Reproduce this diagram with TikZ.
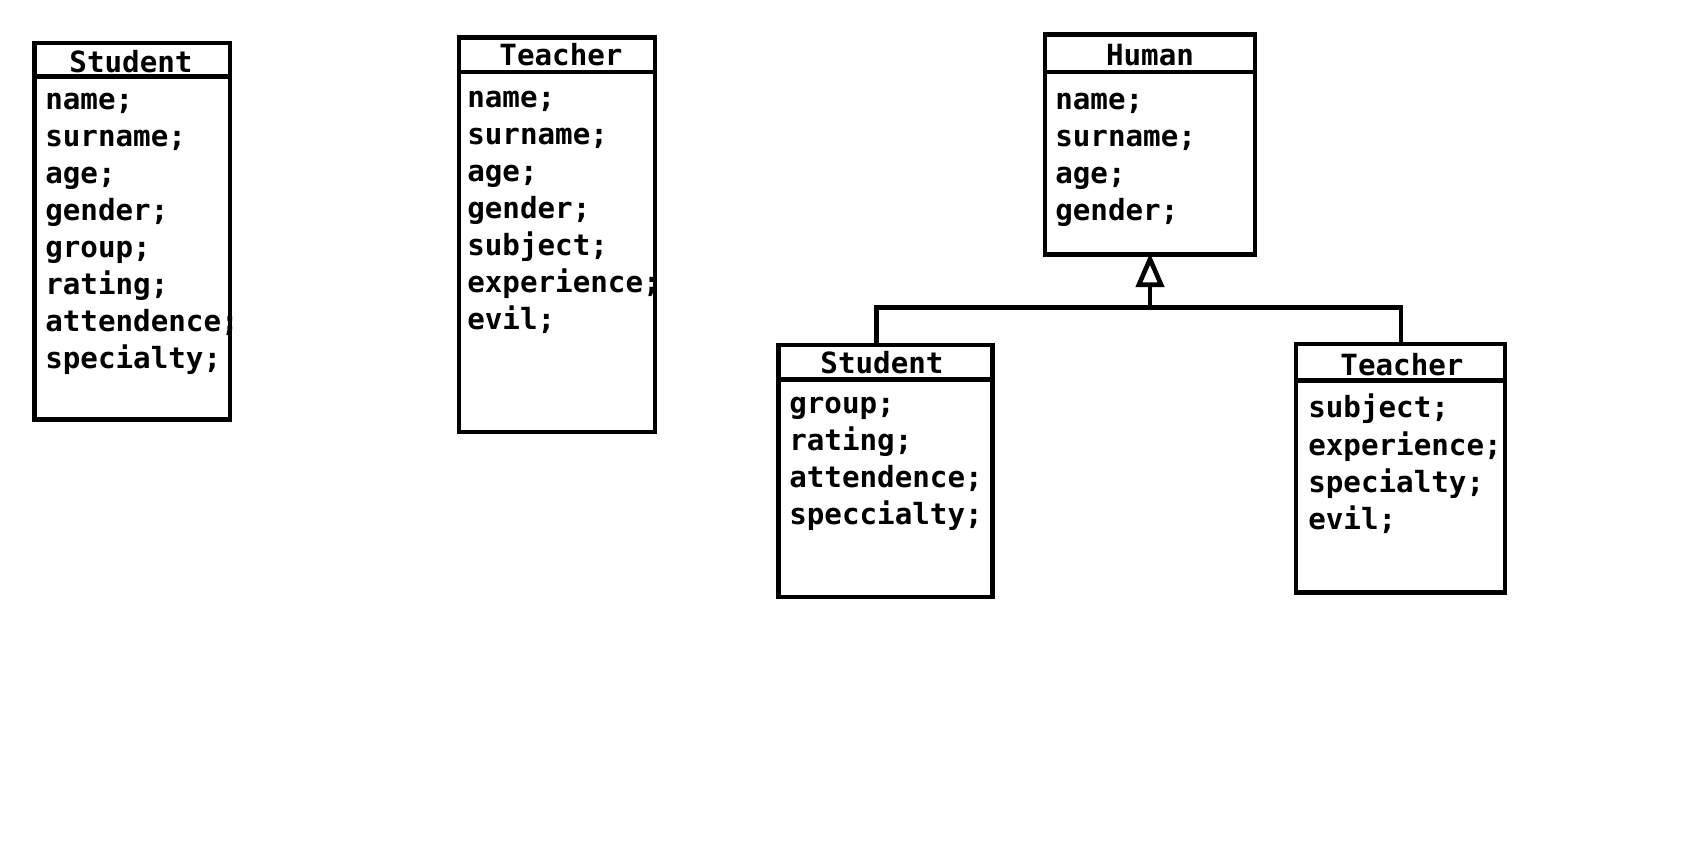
\documentclass[tikz,border=0pt]{standalone}
\usepackage{fontspec}
\newfontfamily\umlfont{DejaVu Sans Mono}
\usetikzlibrary{arrows.meta,fit}

\begin{document}
\begin{tikzpicture}[x=0.5pt,y=-0.5pt,line width=2.3pt,every node/.style={inner sep=0pt},
  classbox/.style={draw,inner sep=0pt},
  title/.style={font=\umlfont\bfseries\fontsize{14.6}{18}\selectfont},
  attr/.style={font=\umlfont\bfseries\fontsize{14.6}{18}\selectfont,anchor=base west},
  >={Triangle[open,length=17pt,width=14pt]}]
\useasboundingbox(0,0)rectangle(1686,844);
% Student, flat
\node[classbox,fit={(34.4,43)(230.1,419.4)}](s1){};
\draw(s1.west|-0,76.3)--(s1.east|-0,76.3);
\node[title](s1-t)at(131,61.5){Student};
\foreach\a[count=\i from 0]in{name;,surname;,age;,gender;,group;,rating;,attendence;,specialty;}
  \node[attr](s1-\i)at(43,109.5+37*\i){\a};
% Teacher, flat
\node[classbox,fit={(459,37.6)(655,432)}](t1){};
\draw(t1.west|-0,72)--(t1.east|-0,72);
\node[title](t1-t)at(561,55){Teacher};
\foreach\a[count=\i from 0]in{name;,surname;,age;,gender;,subject;,experience;,evil;}
  \node[attr](t1-\i)at(465,108+37*\i){\a};
% Human
\node[classbox,fit={(1045,34.4)(1255,254.8)}](h){};
\draw(h.west|-0,72)--(h.east|-0,72);
\node[title](h-t)at(1150,55){Human};
\foreach\a[count=\i from 0]in{name;,surname;,age;,gender;}
  \node[attr](h-\i)at(1053,110+37*\i){\a};
% Student, derived
\node[classbox,fit={(778.5,345)(992.5,597)}](s2){};
\draw(s2.west|-0,379.6)--(s2.east|-0,379.6);
\node[title](s2-t)at(882,363){Student};
\foreach\a[count=\i from 0]in{group;,rating;,attendence;,speccialty;}
  \node[attr](s2-\i)at(787,413.5+37*\i){\a};
% Teacher, derived
\node[classbox,fit={(1296,344)(1505,592.5)}](t2){};
\draw(t2.west|-0,380.7)--(t2.east|-0,380.7);
\node[title](t2-t)at(1402,364.5){Teacher};
\foreach\a[count=\i from 0]in{subject;,experience;,specialty;,evil;}
  \node[attr](t2-\i)at(1306,418+37*\i){\a};
% inheritance
\coordinate(jS)at(876.4,307.5);
\coordinate(jT)at(1401,307.5);
\coordinate(jH)at(h.south|-0,307.5);
\draw(jS|-s2.north)--(jS)--(jT)--(jT|-t2.north);
\draw[->,shorten >=-2pt](jH)--(h.south);
\end{tikzpicture}
\end{document}
